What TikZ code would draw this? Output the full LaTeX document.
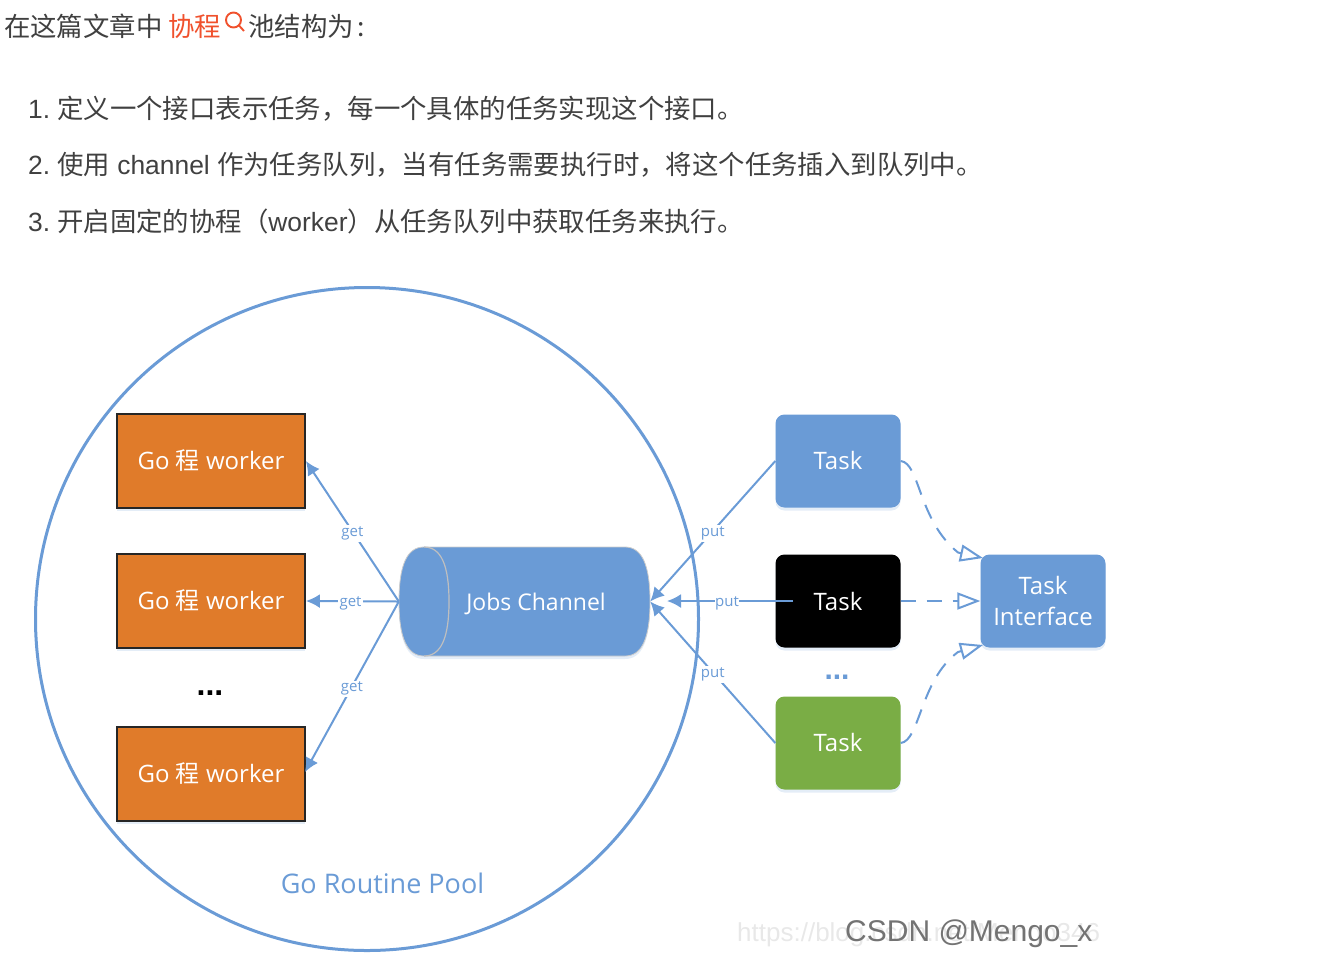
\documentclass[tikz,border=0pt]{standalone}
\usepackage{fontspec}
\setmainfont{Liberation Sans}
\newfontfamily\cjk{Noto Sans CJK SC}
\newfontfamily\ui{Open Sans}
\usetikzlibrary{arrows.meta,shadows,positioning}
\definecolor{tblue}{HTML}{6A9BD6}
\definecolor{torange}{HTML}{E07B2A}
\definecolor{tgreen}{HTML}{7AAD45}
\definecolor{ink}{HTML}{404040}
\definecolor{redl}{HTML}{F0512D}
\tikzset{
  softshadow/.style={drop shadow={shadow xshift=0pt,shadow yshift=-3pt,fill=tblue!60,opacity=.3}},
  line/.style={anchor=west,text=ink,font=\fontsize{26.4pt}{30pt}\selectfont,inner sep=0pt},
  worker/.style={draw=black!85,line width=1.8pt,fill=torange,minimum width=188pt,minimum height=94pt,inner sep=0pt,text=white,font=\ui\fontsize{24pt}{28pt}\selectfont,softshadow},
  taskbox/.style={rounded corners=9pt,minimum width=125pt,minimum height=93pt,inner sep=0pt,text=white,font=\ui\fontsize{24pt}{31pt}\selectfont,align=center,softshadow},
  conn/.style={tblue,line width=2pt,-{Latex[length=14pt,width=14pt]}},
  dashconn/.style={tblue,line width=2pt,dash pattern=on 15pt off 11pt,-{Triangle[open,fill=white,length=23pt,width=17pt,line width=2pt]}},
  lab/.style={fill=white,inner sep=1.5pt,yshift=-2pt,text=tblue,font=\ui\fontsize{15pt}{17pt}\selectfont},
}
\begin{document}
\begin{tikzpicture}[x=1pt,y=-1pt]
\useasboundingbox (0,0) rectangle (1329,978);
% text
\node[line] (t0) at (4,26) {\cjk 在这篇文章中 \textcolor{redl}{协程}};
\draw[redl,line width=1.9pt] (233.5,20) circle (7.5pt) (239,25.5) -- (244,31);
\node[line] (t0b) at (248,26) {\cjk 池结构为\hspace{4pt}:};
\node[line] (t1) at (28,109) {1.\hspace{7pt}{\cjk 定义一个接口表示任务，每一个具体的任务实现这个接口。}};
\node[line] (t2) at (28,165) {2.\hspace{7pt}{\cjk 使用} channel {\cjk 作为任务队列，当有任务需要执行时，将这个任务插入到队列中。}};
\node[line] (t3) at (28,221) {3.\hspace{7pt}{\cjk 开启固定的协程（}worker{\cjk ）从任务队列中获取任务来执行。}};
% pool
\node[circle,draw=tblue,line width=3pt,minimum size=663pt,inner sep=0pt] (pool) at (367,619) {};
\node[text=tblue,font=\ui\fontsize{27pt}{32pt}\selectfont,inner sep=0pt] (pooltxt) at (382.5,883) {Go Routine Pool};
% workers
\node[worker] (w1) at (211,461) {Go {\cjk 程} worker};
\node[worker] (w2) at (211,601) {Go {\cjk 程} worker};
\node[worker] (w3) at (211,774) {Go {\cjk 程} worker};
\node[font=\bfseries\fontsize{32pt}{32pt}\selectfont,inner sep=0pt] (wd) at (210,693) {...};
% jobs channel
\fill[tblue!60,opacity=.3] (424,550) -- (625,550) .. controls (642,550) and (650,568) .. (650,604.5) .. controls (650,641) and (642,659) .. (625,659) -- (424,659) .. controls (407,659) and (399,641) .. (399,604.5) .. controls (399,568) and (407,550) .. (424,550) -- cycle;
\fill[tblue,draw=black!20,line width=.8pt] (424,547) -- (625,547) .. controls (642,547) and (650,565) .. (650,601.5) .. controls (650,638) and (642,656) .. (625,656) -- (424,656) .. controls (407,656) and (399,638) .. (399,601.5) .. controls (399,565) and (407,547) .. (424,547) -- cycle;
\draw[black!25,line width=1.2pt] (424,547) .. controls (441,547) and (449,565) .. (449,601.5) .. controls (449,638) and (441,656) .. (424,656);
\node[minimum width=251pt,minimum height=109pt,inner sep=0pt] (jobs) at (524.5,601.5) {};
\node[text=white,font=\ui\fontsize{23pt}{28pt}\selectfont,inner sep=0pt] (jobstxt) at (536,604) {Jobs Channel};
% tasks
\node[taskbox,fill=tblue] (k1) at (838,461) {\raisebox{2pt}{Task}};
\node[taskbox,fill=black] (k2) at (838,601) {Task};
\node[taskbox,fill=tgreen] (k3) at (838,743) {\raisebox{2pt}{Task}};
\node[taskbox,fill=tblue] (ti) at (1043,601) {Task\\Interface};
\node[font=\bfseries\fontsize{30pt}{30pt}\selectfont,text=tblue,inner sep=0pt] (kd) at (837,677) {...};
% get connectors
\coordinate (w3in) at (305,772);
\draw[conn] (jobs.west) -- node[lab,pos=.5] (g1) {get} (w1.east);
\draw[conn] (jobs.west) -- node[lab,pos=.52] (g2) {get} (w2.east);
\draw[conn] (jobs.west) -- node[lab,pos=.5] (g3) {get} (w3in);
% put connectors
\draw[conn] (k1.west) -- node[lab,pos=.5] (p1) {put} (jobs.east);
\coordinate (k2in) at (793,601);
\coordinate (k2out) at (667,601);
\draw[conn] (k2in) -- (k2out);
\node[lab,inner sep=.5pt] (p2) at (727,601) {put};
\draw[conn] (k3.west) -- node[lab,pos=.5] (p3) {put} (jobs.east);
% interface connectors
\coordinate (tia) at (983,558);
\coordinate (tib) at (983,645);
\coordinate (tiaa) at (958,552.5);
\coordinate (tibb) at (958,652);
\draw[dashconn] (k1.east) .. controls (920,463) and (918,520) .. (tiaa) -- (tia);
\draw[dashconn] (k2.east) -- (ti.west);
\draw[dashconn] (k3.east) .. controls (920,741) and (920,680) .. (tibb) -- (tib);
% watermark
\node[text=black!9,font=\fontsize{26pt}{28pt}\selectfont,anchor=west,inner sep=0pt] (wm1) at (737,935) {https://blog.csdn.net/Mengo346};
\node[text=black!55,font=\fontsize{30pt}{34pt}\selectfont,anchor=west,inner sep=0pt] (wm2) at (845,934) {CSDN @Mengo\_x};
\end{tikzpicture}
\end{document}
